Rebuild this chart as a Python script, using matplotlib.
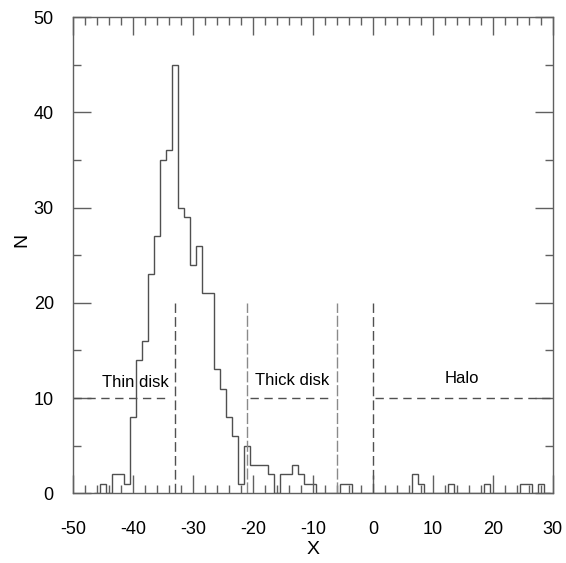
import matplotlib.pyplot as plt
from matplotlib.ticker import MultipleLocator
import numpy as np

plt.rcParams['font.family'] = ['Liberation Sans', 'DejaVu Sans']
plt.rcParams['axes.unicode_minus'] = False

# bin centres (width 1) and counts
x_centres = list(range(-46, 30))
counts = [0, 1, 0, 2, 2, 1, 8, 14, 16, 23,      # -46 .. -37
          27, 35, 36, 45, 30, 29, 24, 26, 21, 21,  # -36 .. -27
          13, 11, 8, 6, 1, 5, 3, 3, 3, 2,          # -26 .. -17
          0, 2, 2, 3, 2, 1, 1, 0, 0, 0,            # -16 .. -7
          0, 1, 1, 0, 0, 0, 0, 0, 0, 0,            # -6 .. 3
          0, 0, 0, 2, 1, 0, 0, 0, 0, 1,            # 4 .. 13
          0, 0, 0, 0, 0, 1, 0, 0, 0, 0,            # 14 .. 23
          0, 1, 1, 0, 1, 0]                        # 24 .. 29

# region boundaries and labels
bounds_short = [-33, 0]
bounds_long = [-21, -6]
bound_top = 20
level = 10
segments = [(-50, -33.8), (-20.5, -6.6), (0.4, 30)]
labels = ['Thin disk', 'Thick disk', 'Halo']
label_x = [-39.6, -13.4, 14.8]
label_y = [11.6, 11.8, 12.0]

edges = np.concatenate([np.array(x_centres) - 0.5, [x_centres[-1] + 0.5]])

fig = plt.figure(figsize=(5.66, 5.63), dpi=100)
ax = fig.add_axes([0.1295, 0.1238, 0.847, 0.846])

ax.stairs(counts, edges, color='#505050', linewidth=1.0)

for b in bounds_short:
    ax.plot([b, b], [0, bound_top], color='#505050', linewidth=1.0,
            dashes=(7, 3))
for b in bounds_long:
    ax.plot([b, b], [0, bound_top], color='#8a8a8a', linewidth=1.0,
            dashes=(8, 2))
for x0, x1 in segments:
    ax.plot([x0, x1], [level, level], color='#505050', linewidth=1.0,
            dashes=(6, 4))
for t, tx, ty in zip(labels, label_x, label_y):
    ax.text(tx, ty, t, ha='center', va='center', fontsize=12)

ax.set_xlim(-50, 30)
ax.set_ylim(0, 50)
ax.xaxis.set_major_locator(MultipleLocator(10))
ax.xaxis.set_minor_locator(MultipleLocator(2))
ax.yaxis.set_major_locator(MultipleLocator(10))
ax.yaxis.set_minor_locator(MultipleLocator(5))
ax.tick_params(which='both', direction='in', top=True, right=True,
               color='#606060', width=1.0)
ax.tick_params(which='major', length=13, labelsize=13)
ax.tick_params(which='minor', length=6)
ax.tick_params(axis='x', which='major', pad=20)
ax.tick_params(axis='y', which='major', pad=14)
for s in ax.spines.values():
    s.set_color('#606060')
    s.set_linewidth(1.0)

ax.set_xlabel('X', fontsize=14, va='center')
ax.set_ylabel('N', fontsize=14, va='center')
ax.xaxis.set_label_coords(0.5, -0.117)
ax.yaxis.set_label_coords(-0.107, 0.532)

fig.savefig('out.png', dpi=100)
